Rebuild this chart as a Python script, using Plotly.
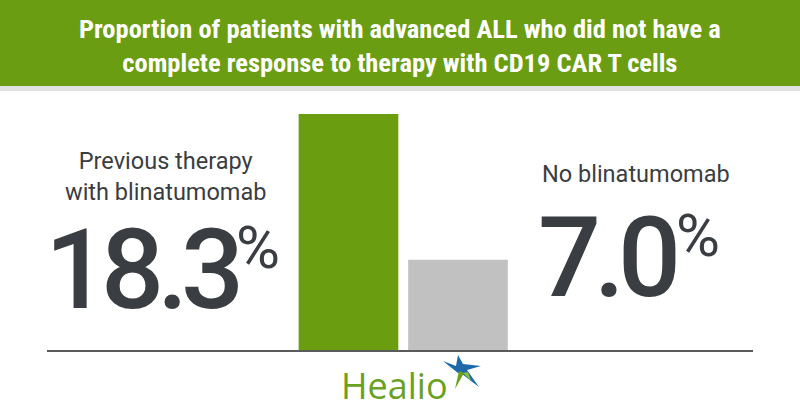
import plotly.graph_objects as go

title = "Proportion of patients with advanced ALL who did not have a<br>complete response to therapy with CD19 CAR T cells"
groups = ["Previous therapy<br>with blinatumomab", "No blinatumomab"]
values = [18.3, 7.0]
colors = ["#6a9d10", "#c1c1c1"]

W, H = 800, 420
L, R, T, B = 47, 47, 92, 70
pw, ph = W - L - R, H - T - B


def px(x):
    return (x - L) / pw


def py(y):
    return (H - B - y) / ph


fig = go.Figure()

fig.add_trace(go.Bar(
    x=groups,
    y=values,
    marker=dict(color=colors, line=dict(width=0)),
    width=0.91,
    hoverinfo="skip",
))

dark = "#3a3d41"
roboto = "Roboto, Arial, sans-serif"
narrow = "Roboto Condensed, Liberation Sans Narrow, DejaVu Sans Condensed, sans-serif"


def big(v):
    return f'<span style="letter-spacing:-7px">{v:.1f}</span>'


ann = []
# title band
ann.append(dict(text="<b>" + title + "</b>", x=px(400), y=py(46), xref="paper", yref="paper",
                xanchor="center", yanchor="middle", showarrow=False, align="center",
                font=dict(family=narrow, size=26.5, color="white")))

# left group
ann.append(dict(text=groups[0], x=px(165), y=py(176), xref="paper", yref="paper",
                xanchor="center", yanchor="middle", showarrow=False, align="center",
                font=dict(family=roboto, size=23.5, color=dark)))
ann.append(dict(text=big(values[0]), x=px(240), y=py(270), xref="paper", yref="paper",
                xanchor="right", yanchor="middle", showarrow=False,
                font=dict(family=roboto, size=111, color=dark, weight=500)))
ann.append(dict(text="%", x=px(234), y=py(247), xref="paper", yref="paper",
                xanchor="left", yanchor="middle", showarrow=False,
                font=dict(family=roboto, size=60, color=dark)))

# right group
ann.append(dict(text=groups[1], x=px(636), y=py(174), xref="paper", yref="paper",
                xanchor="center", yanchor="middle", showarrow=False, align="center",
                font=dict(family=roboto, size=23.5, color=dark)))
ann.append(dict(text=big(values[1]), x=px(678), y=py(258), xref="paper", yref="paper",
                xanchor="right", yanchor="middle", showarrow=False,
                font=dict(family=roboto, size=111, color=dark, weight=500)))
ann.append(dict(text="%", x=px(674), y=py(235), xref="paper", yref="paper",
                xanchor="left", yanchor="middle", showarrow=False,
                font=dict(family=roboto, size=60, color=dark)))

# logo
ann.append(dict(text="Healio", x=px(394), y=py(385), xref="paper", yref="paper",
                xanchor="center", yanchor="middle", showarrow=False,
                font=dict(family="Open Sans, Roboto, sans-serif", size=36, color="#6aa11f")))

shapes = [
    dict(type="rect", xref="paper", yref="paper", x0=px(0), x1=px(W), y0=py(0), y1=py(86),
         fillcolor="#6a9d12", line=dict(width=0), layer="below"),
    dict(type="rect", xref="paper", yref="paper", x0=px(0), x1=px(W), y0=py(86), y1=py(91),
         fillcolor="#e2e2e2", line=dict(width=0), layer="below"),
]


def poly(pts, color):
    path = "M " + " L ".join(f"{px(a)},{py(b)}" for a, b in pts) + " Z"
    return dict(type="path", xref="paper", yref="paper", path=path,
                fillcolor=color, line=dict(width=0))


# star of the logo
shapes.append(poly([(443, 361), (456, 366), (458, 355), (463, 364), (481, 366),
                    (467, 370), (479, 387), (462, 374), (458, 373)], "#1e6aa8"))
shapes.append(poly([(459, 371), (464, 373), (455, 389)], "#6aa11f"))
shapes.append(poly([(463, 373), (468, 372), (471, 381)], "#8fbf3a"))

fig.update_layout(
    width=W, height=H,
    margin=dict(l=L, r=R, t=T, b=B),
    paper_bgcolor="white", plot_bgcolor="white",
    showlegend=False,
    annotations=ann,
    shapes=shapes,
    xaxis=dict(range=[-2.753, 3.694], showticklabels=False, showgrid=False, zeroline=False,
               showline=True, linecolor="#5a5a5a", linewidth=2, ticks=""),
    yaxis=dict(range=[0, 20], visible=False, showgrid=False, zeroline=False),
)

fig.write_html("out.html", config=dict(displayModeBar=False),
               post_script="document.body.style.margin='0';")
